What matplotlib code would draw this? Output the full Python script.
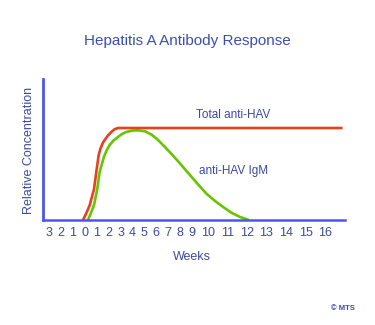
import matplotlib
matplotlib.use("Agg")
import matplotlib.pyplot as plt
import numpy as np


# weeks since onset (negative = before symptoms), relative concentration
total_weeks = [-0.15, 0.10, 0.42, 0.78, 0.97, 1.17, 1.32, 1.53, 1.91,
               2.23, 2.50, 2.79, 16.9]
total_conc = [0.0, 0.065, 0.163, 0.338, 0.522, 0.707, 0.777, 0.842, 0.913,
              0.957, 0.986, 1.0, 1.0]

igm_weeks = [0.27, 0.52, 0.78, 1.05, 1.25, 1.62, 1.83, 2.09, 2.41, 2.79,
             3.13, 3.49, 3.97, 4.49, 5.06, 5.62, 6.15, 6.73, 7.32, 7.85,
             8.41, 8.83, 9.38, 9.92, 10.36, 10.78, 11.18, 11.64, 12.1]
igm_conc = [0.0, 0.076, 0.163, 0.337, 0.522, 0.690, 0.755, 0.815, 0.864, 0.902,
            0.935, 0.957, 0.972, 0.975, 0.964, 0.927, 0.870, 0.793, 0.712, 0.636,
            0.551, 0.489, 0.386, 0.283, 0.207, 0.141, 0.082, 0.033, 0.0]

week_ticks = list(range(-3, 17))
week_labels = [str(abs(w)) for w in week_ticks]

TITLE = "Hepatitis A Antibody Response"
XLABEL = "Weeks"
YLABEL = "Relative Concentration"

RED = "#e8401c"
GREEN = "#66c400"
AXIS_BLUE = "#4a55ee"
TEXT_BLUE = "#3b4a9e"

# the week labels are set like running text: single digits sit closer
# together than the two-digit ones, so the axis is stretched piecewise
KNOT_WEEKS = [-6, -3, 9, 10, 16, 20]
KNOT_POS = [13.25, 49.0, 192.0, 208.0, 325.0, 403.0]


def fwd(w):
    return np.interp(w, KNOT_WEEKS, KNOT_POS)


def inv(p):
    return np.interp(p, KNOT_POS, KNOT_WEEKS)


def main() -> None:
    plt.rcParams.update({"font.family": ["Liberation Sans", "DejaVu Sans"]})
    W, H = 375, 325
    fig = plt.figure(figsize=(W / 100, H / 100), dpi=100)
    left, right, top, bottom = 42.5, 345.0, 79.0, 220.0
    ax = fig.add_axes([left / W, 1 - bottom / H, (right - left) / W, (bottom - top) / H])

    ax.set_xscale("function", functions=(fwd, inv))
    ax.set_xlim(inv(left), inv(right))
    ax.set_ylim(0, (bottom - top) / 92.0)

    ax.plot(total_weeks, total_conc, color=RED, lw=1.9, solid_capstyle="butt",
            solid_joinstyle="round", zorder=3)
    ax.plot(igm_weeks, igm_conc, color=GREEN, lw=1.9, solid_capstyle="butt",
            solid_joinstyle="round", zorder=2)

    for side in ("top", "right"):
        ax.spines[side].set_visible(False)
    ax.spines["left"].set_color(AXIS_BLUE)
    ax.spines["left"].set_linewidth(2.0)
    ax.spines["bottom"].set_color(AXIS_BLUE)
    ax.spines["bottom"].set_linewidth(1.8)
    ax.spines["bottom"].set_zorder(4)

    ax.set_xticks(week_ticks)
    ax.set_xticklabels(week_labels)
    ax.xaxis.set_minor_locator(matplotlib.ticker.NullLocator())
    ax.set_yticks([])
    ax.tick_params(axis="x", length=0, pad=5, labelsize=9, labelcolor=TEXT_BLUE)

    ax.text(9.25, 1.14, "Total anti-HAV", color=TEXT_BLUE, fontsize=8.5,
            ha="left", va="center")
    ax.text(9.44, 0.53, "anti-HAV IgM", color=TEXT_BLUE, fontsize=8.5,
            ha="left", va="center")

    fig.text(187 / W, 1 - 41 / H, TITLE, color="#3b4fb0", fontsize=11,
             ha="center", va="center")
    fig.text(192 / W, 1 - 257 / H, XLABEL, color=TEXT_BLUE, fontsize=9,
             ha="center", va="center")
    fig.text(29 / W, 1 - 150 / H, YLABEL, color=TEXT_BLUE, fontsize=9,
             ha="center", va="center", rotation=90)
    fig.text(343 / W, 1 - 309 / H, "\u00a9 MTS", color=TEXT_BLUE, fontsize=5.5,
             fontweight="bold", ha="center", va="center")

    fig.savefig("out.png", dpi=100, facecolor="white")
    plt.close(fig)


if __name__ == "__main__":
    main()
